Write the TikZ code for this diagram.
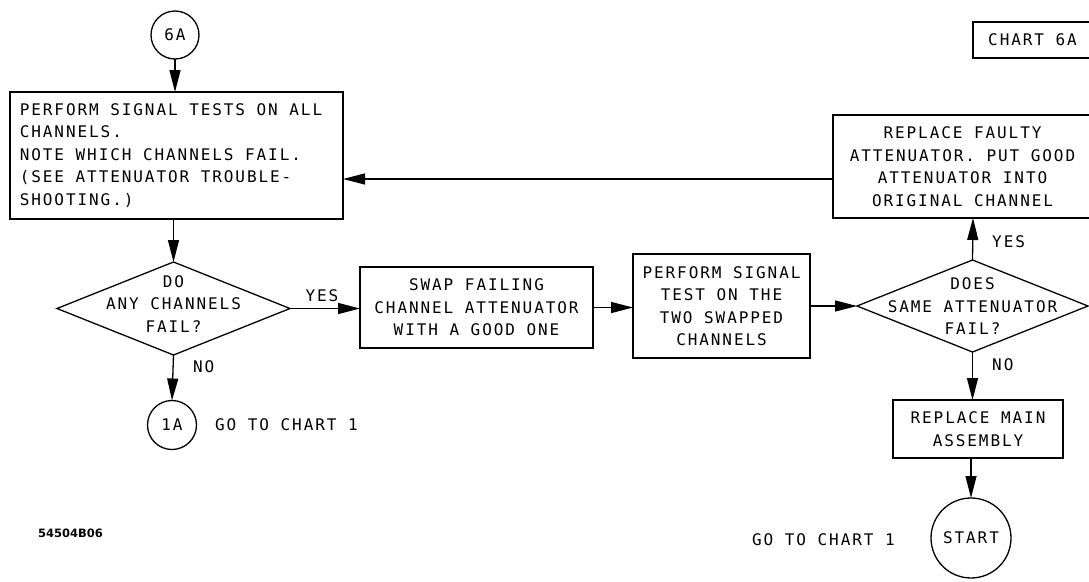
\documentclass[tikz,border=0pt]{standalone}
\usepackage{fontspec}
\newfontfamily\plotfont[LetterSpace=12]{DejaVu Sans Mono}
\newfontfamily\idfont{DejaVu Sans}
\usetikzlibrary{arrows.meta,shapes.geometric}
\begin{document}
\begin{tikzpicture}[x=1pt,y=-1pt,
  txt/.style={font=\plotfont\fontsize{16}{22.5}\selectfont},
  box/.style={draw,line width=1.3pt,inner sep=0pt,outer sep=0pt,align=center,txt},
  circ/.style={draw,circle,line width=1.3pt,inner sep=0pt,outer sep=0pt,txt},
  dia/.style={draw,diamond,line width=1.3pt,inner sep=0pt,outer sep=0pt},
  lbl/.style={inner sep=0pt,txt},
  flow/.style={line width=1.3pt,-{Triangle[length=22pt,width=11pt]}}]
\useasboundingbox (0,0) rectangle (1089,581);
\clip (0,0) rectangle (1089,581);
\fill[white] (0,0) rectangle (1089,581);

% nodes
\node[circ,minimum size=48pt] (c6a) at (175,35) {6A};
\node[box,minimum width=333pt,minimum height=127pt,align=left] (b1) at (176.5,155.5)
  {PERFORM SIGNAL TESTS ON ALL\hspace*{11pt}\\CHANNELS.\\NOTE WHICH CHANNELS FAIL.\\(SEE ATTENUATOR TROUBLE-\\SHOOTING.)};
\node[dia,minimum width=233pt,minimum height=93pt] (d1) at (173.5,308.5) {};
\node[lbl,align=center] (d1t) at (173.5,304) {DO\\ANY CHANNELS\\FAIL?};
\node[circ,minimum size=49pt] (c1a) at (172,425) {1A};
\node[lbl,anchor=west] (go1) at (215,425) {GO TO CHART 1};

\node[box,minimum width=233pt,minimum height=81pt] (swap) at (476.5,307.5)
  {SWAP FAILING\\CHANNEL ATTENUATOR\\WITH A GOOD ONE};
\node[box,minimum width=177pt,minimum height=104pt] (perf) at (721.5,306)
  {PERFORM SIGNAL\\TEST ON THE\\TWO SWAPPED\\CHANNELS};
\node[dia,minimum width=231pt,minimum height=92pt] (d2) at (972.5,306) {};
\node[lbl,align=center] (d2t) at (972.5,306.5) {DOES\\SAME ATTENUATOR\\FAIL?};

\node[box,minimum width=259pt,minimum height=103pt] (rf) at (962.5,166.5)
  {REPLACE FAULTY\\ATTENUATOR. PUT GOOD\\ATTENUATOR INTO\\ORIGINAL CHANNEL};
\node[box,minimum width=119pt,minimum height=36pt] (chart) at (1032.5,40) {CHART 6A};

\node[box,minimum width=170pt,minimum height=58pt] (rm) at (978,429)
  {REPLACE MAIN\\ASSEMBLY};
\node[circ,minimum size=80pt] (st) at (971,538) {START};
\node[lbl,anchor=west] (go2) at (752,540) {GO TO CHART 1};

\node[inner sep=0pt,anchor=west,font=\idfont\bfseries\fontsize{11.5}{12}\selectfont] (id) at (38,533) {54504B06};

% connectors
\draw[flow] (c6a.south) -- (b1.north -| c6a.south);
\draw[flow] (b1.south -| d1.north) -- (d1.north);
\draw[flow] (d1.south) -- (c1a.north);
\node[lbl,anchor=west] (no1) at (193,367) {NO};
\draw[flow] (d1.east) -- (swap.west |- d1.east);
\node[lbl,anchor=south] (yes1) at (322,302) {YES};
\draw[flow] (swap.east) -- (perf.west |- swap.east);
\draw[flow] (perf.east |- d2.west) -- (d2.west);
\coordinate (rfa) at (973,218);
\draw[flow] (d2.north) -- (rfa);
\node[lbl,anchor=west] (yes2) at (992,242) {YES};
\draw[flow] (rf.west |- 0,179) -- (b1.east |- 0,179);
\draw[flow] (d2.south) -- (rm.north -| d2.south);
\node[lbl,anchor=west] (no2) at (992,365) {NO};
\draw[flow] (rm.south -| st.north) -- (st.north);
\end{tikzpicture}
\end{document}
